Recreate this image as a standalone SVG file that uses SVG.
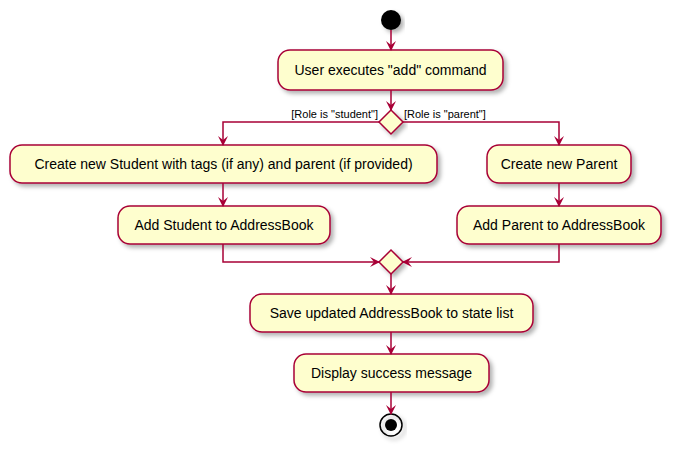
<svg xmlns="http://www.w3.org/2000/svg" width="677" height="451" viewBox="0 0 677 451">
<defs>
<filter id="sh" x="-10%" y="-20%" width="130%" height="160%"><feDropShadow dx="3" dy="3" stdDeviation="2" flood-color="#000" flood-opacity="0.3"/></filter>
<marker id="ar" viewBox="0 0 10 10" refX="9" refY="5" markerWidth="10" markerHeight="10" markerUnits="userSpaceOnUse" orient="auto"><path d="M0,0 L10,5 L0,10 L4,5 Z" fill="#A80036"/></marker>
</defs>
<style>
.b{fill:#FEFECE;stroke:#A80036;stroke-width:1.5;filter:url(#sh)}
.t{font-family:"Liberation Sans",Arial,sans-serif;font-size:14px;fill:#000;text-anchor:middle}
.l{font-family:"Liberation Sans",Arial,sans-serif;font-size:11px;fill:#000}
.c{fill:none;stroke:#A80036;stroke-width:1.5}
</style>
<rect width="677" height="451" fill="#fff"/>
<g id="start"><circle cx="391" cy="20" r="10" fill="#000" filter="url(#sh)"/></g>
<g id="n1"><rect class="b" x="278" y="50" width="225" height="40" rx="12"/><text class="t" x="390.5" y="75">User executes "add" command</text></g>
<g id="d1"><polygon class="b" points="391,110 403,122 391,134 379,122"/></g>
<g id="n2"><rect class="b" x="10" y="145" width="427" height="38" rx="12"/><text class="t" x="223.5" y="169">Create new Student with tags (if any) and parent (if provided)</text></g>
<g id="n3"><rect class="b" x="118" y="206" width="212" height="38" rx="12"/><text class="t" x="224" y="230">Add Student to AddressBook</text></g>
<g id="n4"><rect class="b" x="487" y="145" width="144" height="38" rx="12"/><text class="t" x="559" y="169">Create new Parent</text></g>
<g id="n5"><rect class="b" x="457" y="206" width="204" height="38" rx="12"/><text class="t" x="559" y="230">Add Parent to AddressBook</text></g>
<g id="d2"><polygon class="b" points="391,250 403,262 391,274 379,262"/></g>
<g id="n6"><rect class="b" x="250" y="294" width="283" height="38" rx="12"/><text class="t" x="391.5" y="318">Save updated AddressBook to state list</text></g>
<g id="n7"><rect class="b" x="294" y="354" width="195" height="38" rx="12"/><text class="t" x="391.5" y="378">Display success message</text></g>
<g id="end"><circle cx="391" cy="425" r="11" fill="none" stroke="#000" stroke-width="1.5" filter="url(#sh)"/><circle cx="391" cy="425" r="6" fill="#000"/></g>
<g id="connectors">
<path class="c" d="M391,30 V50" marker-end="url(#ar)"/>
<path class="c" d="M391,90 V110" marker-end="url(#ar)"/>
<path class="c" d="M379,122 H223 V145" marker-end="url(#ar)"/>
<path class="c" d="M403,122 H559 V145" marker-end="url(#ar)"/>
<path class="c" d="M223,183 V206" marker-end="url(#ar)"/>
<path class="c" d="M559,183 V206" marker-end="url(#ar)"/>
<path class="c" d="M223,244 V262 H379" marker-end="url(#ar)"/>
<path class="c" d="M559,244 V262 H403" marker-end="url(#ar)"/>
<path class="c" d="M391,274 V294" marker-end="url(#ar)"/>
<path class="c" d="M391,332 V354" marker-end="url(#ar)"/>
<path class="c" d="M391,392 V414" marker-end="url(#ar)"/>
<text class="l" x="378" y="118" text-anchor="end">[Role is "student"]</text>
<text class="l" x="404" y="118">[Role is "parent"]</text>
</g>
</svg>
